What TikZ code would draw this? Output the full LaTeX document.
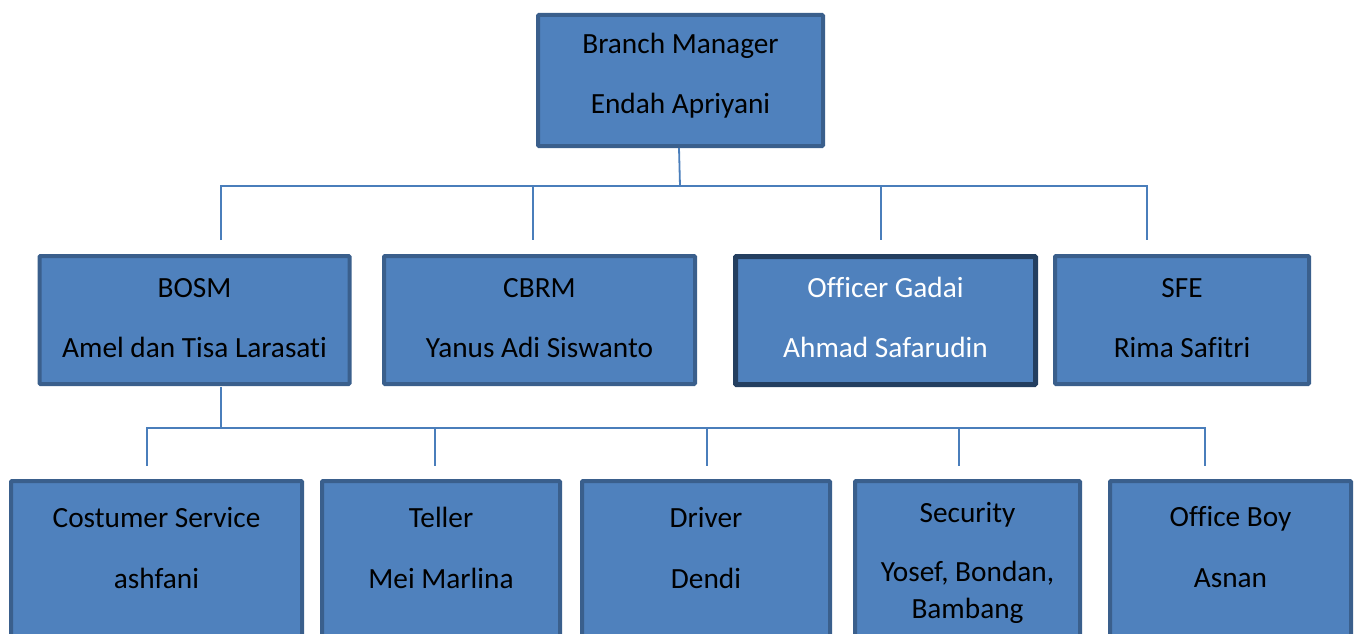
\documentclass[tikz,border=0pt]{standalone}
\usepackage{fontspec}
\setmainfont{Carlito}[Ligatures=NoCommon]
\definecolor{boxfill}{HTML}{4F81BD}
\definecolor{boxline}{HTML}{3A5F8C}
\definecolor{darkline}{HTML}{243F60}
\definecolor{conn}{HTML}{4A7EBB}
\tikzset{
  box/.style={draw=boxline, fill=boxfill, line width=4pt, rounded corners=1pt, inner sep=0pt},
  darkbox/.style={box, draw=darkline, line width=5pt},
  txt/.style={anchor=base, inner sep=0pt, font=\fontsize{29.3}{35}\selectfont, text=black},
  wtxt/.style={txt, text=white},
  link/.style={draw=conn, line width=1.8pt},
}
\begin{document}
\begin{tikzpicture}[x=1pt,y=-1pt]
\useasboundingbox (0,0) rectangle (1357,634);
% boxes (centre, size = outer - 4)
\node[box, minimum width=285pt, minimum height=131pt] (bm) at (680.5,80.5) {};
\node[box, minimum width=310pt, minimum height=128pt] (bosm) at (194.5,320) {};
\node[box, minimum width=311pt, minimum height=128pt] (cbrm) at (539.5,320) {};
\node[darkbox, minimum width=300pt, minimum height=128pt] (og) at (885.5,320.5) {};
\node[box, minimum width=254pt, minimum height=128pt] (sfe) at (1182,320) {};
\node[box, minimum width=291pt, minimum height=200pt] (cs) at (156.5,581) {};
\node[box, minimum width=238pt, minimum height=200pt] (tel) at (441,581) {};
\node[box, minimum width=248pt, minimum height=200pt] (drv) at (706,581) {};
\node[box, minimum width=225pt, minimum height=200pt] (sec) at (967.5,581) {};
\node[box, minimum width=241pt, minimum height=200pt] (ob) at (1230.5,581) {};
% texts
\node[txt] (t1a) at (680.5,54) {Branch Manager};
\node[txt] (t1b) at (680.5,113) {Endah Apriyani};
\node[txt] (t2a) at (194.5,297) {BOSM};
\node[txt] (t2b) at (194.5,357) {Amel dan Tisa Larasati};
\node[txt] (t3a) at (539.5,297) {CBRM};
\node[txt] (t3b) at (539.5,357) {Yanus Adi Siswanto};
\node[wtxt] (t4a) at (885.5,297) {Officer Gadai};
\node[wtxt] (t4b) at (885.5,357) {Ahmad Safarudin};
\node[txt] (t5a) at (1182,297) {SFE};
\node[txt] (t5b) at (1182,357) {Rima Safitri};
\node[txt] (t6a) at (156.5,527) {Costumer Service};
\node[txt] (t6b) at (156.5,588) {ashfani};
\node[txt] (t7a) at (441,527) {Teller};
\node[txt] (t7b) at (441,588) {Mei Marlina};
\node[txt] (t8a) at (706,527) {Driver};
\node[txt] (t8b) at (706,588) {Dendi};
\node[txt] (t9a) at (967.5,522) {Security};
\node[txt] (t9b) at (967.5,581) {Yosef, Bondan,};
\node[txt] (t9c) at (967.5,618) {Bambang};
\node[txt] (t10a) at (1230.5,526) {Office Boy};
\node[txt] (t10b) at (1230.5,587) {Asnan};
% connector points
\coordinate (bmout) at (679,148);
\coordinate (j1) at (680,186);
\coordinate (h1l) at (221,186);
\coordinate (h1r) at (1147,186);
\coordinate (d1) at (221,240);
\coordinate (d2) at (533,240);
\coordinate (d3) at (881,240);
\coordinate (d4) at (1147,240);
\coordinate (bosmout) at (221,387);
\coordinate (j2) at (221,428);
\coordinate (h2l) at (147,428);
\coordinate (h2r) at (1205,428);
\coordinate (e1) at (147,466);
\coordinate (e2) at (435,466);
\coordinate (e3) at (707,466);
\coordinate (e4) at (959,466);
\coordinate (e5) at (1205,466);
% connectors
\draw[link] (bmout) -- (j1);
\draw[link] (d1) -- (h1l) -- (h1r) -- (d4);
\draw[link] (533,186) -- (d2);
\draw[link] (881,186) -- (d3);
\draw[link] (bosmout) -- (j2);
\draw[link] (e1) -- (h2l) -- (h2r) -- (e5);
\draw[link] (435,428) -- (e2);
\draw[link] (707,428) -- (e3);
\draw[link] (959,428) -- (e4);
\end{tikzpicture}
\end{document}
